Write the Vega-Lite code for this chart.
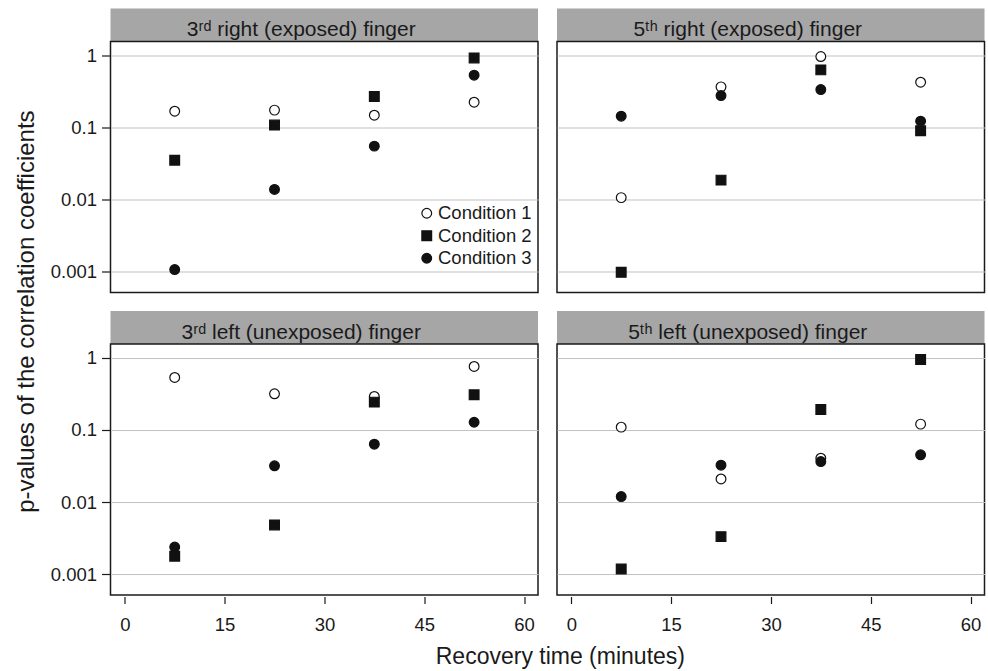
{
  "$schema": "https://vega.github.io/schema/vega-lite/v6.json",
  "padding": {"left": 14.5, "top": 8.5, "right": 0, "bottom": 0},
  "background": "white",
  "data": {"values": [
    {"panel": "R3", "time": 7.5, "condition": "Condition 1", "p": 0.168},
    {"panel": "R3", "time": 22.5, "condition": "Condition 1", "p": 0.174},
    {"panel": "R3", "time": 37.5, "condition": "Condition 1", "p": 0.148},
    {"panel": "R3", "time": 52.5, "condition": "Condition 1", "p": 0.224},
    {"panel": "R3", "time": 7.5, "condition": "Condition 2", "p": 0.0353},
    {"panel": "R3", "time": 22.5, "condition": "Condition 2", "p": 0.108},
    {"panel": "R3", "time": 37.5, "condition": "Condition 2", "p": 0.268},
    {"panel": "R3", "time": 52.5, "condition": "Condition 2", "p": 0.918},
    {"panel": "R3", "time": 7.5, "condition": "Condition 3", "p": 0.00108},
    {"panel": "R3", "time": 22.5, "condition": "Condition 3", "p": 0.0139},
    {"panel": "R3", "time": 37.5, "condition": "Condition 3", "p": 0.0552},
    {"panel": "R3", "time": 52.5, "condition": "Condition 3", "p": 0.529},
    {"panel": "R5", "time": 7.5, "condition": "Condition 1", "p": 0.0107},
    {"panel": "R5", "time": 22.5, "condition": "Condition 1", "p": 0.365},
    {"panel": "R5", "time": 37.5, "condition": "Condition 1", "p": 0.96},
    {"panel": "R5", "time": 52.5, "condition": "Condition 1", "p": 0.424},
    {"panel": "R5", "time": 7.5, "condition": "Condition 2", "p": 0.00099},
    {"panel": "R5", "time": 22.5, "condition": "Condition 2", "p": 0.0187},
    {"panel": "R5", "time": 37.5, "condition": "Condition 2", "p": 0.627},
    {"panel": "R5", "time": 52.5, "condition": "Condition 2", "p": 0.09},
    {"panel": "R5", "time": 7.5, "condition": "Condition 3", "p": 0.1435},
    {"panel": "R5", "time": 22.5, "condition": "Condition 3", "p": 0.277},
    {"panel": "R5", "time": 37.5, "condition": "Condition 3", "p": 0.335},
    {"panel": "R5", "time": 52.5, "condition": "Condition 3", "p": 0.1224},
    {"panel": "L3", "time": 7.5, "condition": "Condition 1", "p": 0.534},
    {"panel": "L3", "time": 22.5, "condition": "Condition 1", "p": 0.317},
    {"panel": "L3", "time": 37.5, "condition": "Condition 1", "p": 0.291},
    {"panel": "L3", "time": 52.5, "condition": "Condition 1", "p": 0.758},
    {"panel": "L3", "time": 7.5, "condition": "Condition 2", "p": 0.00179},
    {"panel": "L3", "time": 22.5, "condition": "Condition 2", "p": 0.00485},
    {"panel": "L3", "time": 37.5, "condition": "Condition 2", "p": 0.243},
    {"panel": "L3", "time": 52.5, "condition": "Condition 2", "p": 0.307},
    {"panel": "L3", "time": 7.5, "condition": "Condition 3", "p": 0.0024},
    {"panel": "L3", "time": 22.5, "condition": "Condition 3", "p": 0.0319},
    {"panel": "L3", "time": 37.5, "condition": "Condition 3", "p": 0.0636},
    {"panel": "L3", "time": 52.5, "condition": "Condition 3", "p": 0.128},
    {"panel": "L5", "time": 7.5, "condition": "Condition 1", "p": 0.1095},
    {"panel": "L5", "time": 22.5, "condition": "Condition 1", "p": 0.021},
    {"panel": "L5", "time": 37.5, "condition": "Condition 1", "p": 0.0407},
    {"panel": "L5", "time": 52.5, "condition": "Condition 1", "p": 0.1205},
    {"panel": "L5", "time": 7.5, "condition": "Condition 2", "p": 0.00119},
    {"panel": "L5", "time": 22.5, "condition": "Condition 2", "p": 0.00334},
    {"panel": "L5", "time": 37.5, "condition": "Condition 2", "p": 0.192},
    {"panel": "L5", "time": 52.5, "condition": "Condition 2", "p": 0.948},
    {"panel": "L5", "time": 7.5, "condition": "Condition 3", "p": 0.012},
    {"panel": "L5", "time": 22.5, "condition": "Condition 3", "p": 0.0326},
    {"panel": "L5", "time": 37.5, "condition": "Condition 3", "p": 0.0366},
    {"panel": "L5", "time": 52.5, "condition": "Condition 3", "p": 0.0453}
  ]},
  "title": {"text": "Recovery time (minutes)", "orient": "bottom", "anchor": "middle", "fontSize": 23, "fontWeight": "normal", "font": "Liberation Sans", "color": "#1a1a1a", "dx": 60, "offset": 11},
  "vconcat": [
    {
      "title": {"text": "p-values of the correlation coefficients", "orient": "left", "anchor": "middle", "fontSize": 24, "fontWeight": "normal", "font": "Liberation Sans", "color": "#1a1a1a", "dx": 10, "offset": 10},
      "spacing": 17.5,
      "vconcat": [
        {
          "spacing": 16.5,
          "hconcat": [
            {
              "spacing": 0, "bounds": "flush",
              "vconcat": [
                {
                  "width": 427.5, "height": 33,
                  "view": {"fill": "#a6a6a6"},
                  "data": {"values": [{"label": "3ʳᵈ right (exposed) finger"}]},
                  "mark": {"type": "text", "fontSize": 21, "dx": -23, "dy": 5, "color": "#1a1a1a"},
                  "encoding": {"text": {"field": "label", "type": "nominal"}}
                },
                {
                  "width": 427.5, "height": 251,
                  "transform": [{"filter": "datum.panel === 'R3'"}],
                  "mark": {"type": "point", "filled": true, "size": 95, "strokeWidth": 1.2, "opacity": 1},
                  "encoding": {
                    "x": {"field": "time", "type": "quantitative", "scale": {"domain": [-2.15, 62.1], "nice": false, "zero": false}, "axis": null},
                    "y": {"field": "p", "type": "quantitative", "scale": {"type": "log", "domain": [0.00052, 1.55], "nice": false}, "axis": {"values": [0.001, 0.01, 0.1, 1], "title": null, "grid": true, "tickSize": 9, "labelPadding": 5, "format": "~g"}},
                    "shape": {"field": "condition", "type": "nominal", "scale": {"domain": ["Condition 1", "Condition 2", "Condition 3"], "range": ["circle", "square", "circle"]}, "legend": {"title": null}},
                    "fill": {"field": "condition", "type": "nominal", "scale": {"domain": ["Condition 1", "Condition 2", "Condition 3"], "range": ["#ffffff", "#111111", "#111111"]}, "legend": {"title": null}},
                    "stroke": {"field": "condition", "type": "nominal", "scale": {"domain": ["Condition 1", "Condition 2", "Condition 3"], "range": ["#111111", "#111111", "#111111"]}, "legend": {"title": null}}
                  }
                }
              ]
            },
            {
              "spacing": 0, "bounds": "flush",
              "vconcat": [
                {
                  "width": 427.5, "height": 33,
                  "view": {"fill": "#a6a6a6"},
                  "data": {"values": [{"label": "5ᵗʰ right (exposed) finger"}]},
                  "mark": {"type": "text", "fontSize": 21, "dx": -23, "dy": 5, "color": "#1a1a1a"},
                  "encoding": {"text": {"field": "label", "type": "nominal"}}
                },
                {
                  "width": 427.5, "height": 251,
                  "transform": [{"filter": "datum.panel === 'R5'"}],
                  "mark": {"type": "point", "filled": true, "size": 95, "strokeWidth": 1.2, "opacity": 1},
                  "encoding": {
                    "x": {"field": "time", "type": "quantitative", "scale": {"domain": [-2.15, 62.1], "nice": false, "zero": false}, "axis": null},
                    "y": {"field": "p", "type": "quantitative", "scale": {"type": "log", "domain": [0.00052, 1.55], "nice": false}, "axis": {"values": [0.001, 0.01, 0.1, 1], "title": null, "grid": true, "ticks": false, "labels": false}},
                    "shape": {"field": "condition", "type": "nominal", "scale": {"domain": ["Condition 1", "Condition 2", "Condition 3"], "range": ["circle", "square", "circle"]}, "legend": {"title": null}},
                    "fill": {"field": "condition", "type": "nominal", "scale": {"domain": ["Condition 1", "Condition 2", "Condition 3"], "range": ["#ffffff", "#111111", "#111111"]}, "legend": {"title": null}},
                    "stroke": {"field": "condition", "type": "nominal", "scale": {"domain": ["Condition 1", "Condition 2", "Condition 3"], "range": ["#111111", "#111111", "#111111"]}, "legend": {"title": null}}
                  }
                }
              ]
            }
          ]
        },
        {
          "spacing": 16.5,
          "hconcat": [
            {
              "spacing": 0, "bounds": "flush",
              "vconcat": [
                {
                  "width": 427.5, "height": 33,
                  "view": {"fill": "#a6a6a6"},
                  "data": {"values": [{"label": "3ʳᵈ left (unexposed) finger"}]},
                  "mark": {"type": "text", "fontSize": 21, "dx": -23, "dy": 5, "color": "#1a1a1a"},
                  "encoding": {"text": {"field": "label", "type": "nominal"}}
                },
                {
                  "width": 427.5, "height": 251,
                  "transform": [{"filter": "datum.panel === 'L3'"}],
                  "mark": {"type": "point", "filled": true, "size": 95, "strokeWidth": 1.2, "opacity": 1},
                  "encoding": {
                    "x": {"field": "time", "type": "quantitative", "scale": {"domain": [-2.15, 62.1], "nice": false, "zero": false}, "axis": {"values": [0, 15, 30, 45, 60], "title": null, "grid": false, "tickSize": 7, "offset": 1.5, "labelPadding": 12}},
                    "y": {"field": "p", "type": "quantitative", "scale": {"type": "log", "domain": [0.00052, 1.55], "nice": false}, "axis": {"values": [0.001, 0.01, 0.1, 1], "title": null, "grid": true, "tickSize": 9, "labelPadding": 5, "format": "~g"}},
                    "shape": {"field": "condition", "type": "nominal", "scale": {"domain": ["Condition 1", "Condition 2", "Condition 3"], "range": ["circle", "square", "circle"]}, "legend": {"title": null}},
                    "fill": {"field": "condition", "type": "nominal", "scale": {"domain": ["Condition 1", "Condition 2", "Condition 3"], "range": ["#ffffff", "#111111", "#111111"]}, "legend": {"title": null}},
                    "stroke": {"field": "condition", "type": "nominal", "scale": {"domain": ["Condition 1", "Condition 2", "Condition 3"], "range": ["#111111", "#111111", "#111111"]}, "legend": {"title": null}}
                  }
                }
              ]
            },
            {
              "spacing": 0, "bounds": "flush",
              "vconcat": [
                {
                  "width": 427.5, "height": 33,
                  "view": {"fill": "#a6a6a6"},
                  "data": {"values": [{"label": "5ᵗʰ left (unexposed) finger"}]},
                  "mark": {"type": "text", "fontSize": 21, "dx": -23, "dy": 5, "color": "#1a1a1a"},
                  "encoding": {"text": {"field": "label", "type": "nominal"}}
                },
                {
                  "width": 427.5, "height": 251,
                  "transform": [{"filter": "datum.panel === 'L5'"}],
                  "mark": {"type": "point", "filled": true, "size": 95, "strokeWidth": 1.2, "opacity": 1},
                  "encoding": {
                    "x": {"field": "time", "type": "quantitative", "scale": {"domain": [-2.15, 62.1], "nice": false, "zero": false}, "axis": {"values": [0, 15, 30, 45, 60], "title": null, "grid": false, "tickSize": 7, "offset": 1.5, "labelPadding": 12}},
                    "y": {"field": "p", "type": "quantitative", "scale": {"type": "log", "domain": [0.00052, 1.55], "nice": false}, "axis": {"values": [0.001, 0.01, 0.1, 1], "title": null, "grid": true, "ticks": false, "labels": false}},
                    "shape": {"field": "condition", "type": "nominal", "scale": {"domain": ["Condition 1", "Condition 2", "Condition 3"], "range": ["circle", "square", "circle"]}, "legend": {"title": null}},
                    "fill": {"field": "condition", "type": "nominal", "scale": {"domain": ["Condition 1", "Condition 2", "Condition 3"], "range": ["#ffffff", "#111111", "#111111"]}, "legend": {"title": null}},
                    "stroke": {"field": "condition", "type": "nominal", "scale": {"domain": ["Condition 1", "Condition 2", "Condition 3"], "range": ["#111111", "#111111", "#111111"]}, "legend": {"title": null}}
                  }
                }
              ]
            }
          ]
        }
      ]
    }
  ],
  "config": {
    "font": "Liberation Sans",
    "view": {"stroke": "#1a1a1a", "strokeWidth": 1.5},
    "axis": {"labelFont": "Liberation Sans", "labelFontSize": 18.5, "labelColor": "#1a1a1a", "tickColor": "#1a1a1a", "tickWidth": 1.2, "domain": false, "gridColor": "#c2c2c2", "gridWidth": 1.2},
    "legend": {"orient": "none", "legendX": 307, "legendY": 195.5, "labelFont": "Liberation Sans", "labelFontSize": 18.5, "labelColor": "#1a1a1a", "symbolSize": 95, "symbolStrokeWidth": 1.2, "rowPadding": 3.5, "labelOffset": 2, "padding": 0}
  }
}
